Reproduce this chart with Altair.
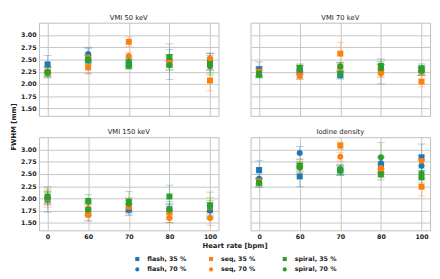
import altair as alt
import pandas as pd

heart_rates = [0, 60, 70, 80, 100]
panels = ["VMI 50 keV", "VMI 70 keV", "VMI 150 keV", "Iodine density"]
series = ["flash, 35 %", "flash, 70 %", "seq, 35 %", "seq, 70 %", "spiral, 35 %", "spiral, 70 %"]
series_colors = ["#1f77b4", "#1f77b4", "#ff7f0e", "#ff7f0e", "#2ca02c", "#2ca02c"]
series_shapes = ["square", "circle", "square", "circle", "square", "circle"]

# rows: flash35, flash70, seq35, seq70, spiral35, spiral70 ; columns: heart rates
vmi50_mean = [
    [2.40, 2.48, 2.41, 2.40, 2.47],
    [2.25, 2.61, 2.43, 2.48, 2.45],
    [2.25, 2.34, 2.86, 2.46, 2.07],
    [2.24, 2.54, 2.57, 2.50, 2.52],
    [2.23, 2.50, 2.37, 2.55, 2.40],
    [2.24, 2.49, 2.46, 2.38, 2.36],
]
vmi50_low = [
    [2.22, 2.22, 2.32, 2.09, 2.30],
    [2.15, 2.48, 2.35, 2.35, 2.28],
    [2.17, 2.20, 2.76, 2.33, 1.86],
    [2.14, 2.45, 2.50, 2.40, 2.42],
    [2.12, 2.42, 2.30, 2.29, 2.22],
    [2.15, 2.40, 2.38, 2.28, 2.18],
]
vmi50_high = [
    [2.58, 2.73, 2.50, 2.70, 2.63],
    [2.35, 2.74, 2.52, 2.60, 2.62],
    [2.33, 2.48, 2.96, 2.59, 2.28],
    [2.34, 2.63, 2.65, 2.60, 2.62],
    [2.35, 2.58, 2.44, 2.82, 2.58],
    [2.33, 2.58, 2.55, 2.46, 2.54],
]

vmi70_mean = [
    [2.30, 2.24, 2.18, 2.28, 2.28],
    [2.27, 2.28, 2.34, 2.30, 2.26],
    [2.25, 2.17, 2.62, 2.27, 2.05],
    [2.23, 2.30, 2.34, 2.22, 2.25],
    [2.19, 2.33, 2.21, 2.37, 2.32],
    [2.22, 2.30, 2.36, 2.32, 2.27],
]
vmi70_low = [
    [2.15, 2.10, 2.10, 2.00, 2.18],
    [2.18, 2.20, 2.25, 2.20, 2.18],
    [2.16, 2.09, 2.40, 2.15, 1.94],
    [2.15, 2.22, 2.26, 2.13, 2.17],
    [2.12, 2.25, 2.12, 2.28, 2.24],
    [2.14, 2.22, 2.28, 2.24, 2.19],
]
vmi70_high = [
    [2.45, 2.38, 2.26, 2.51, 2.38],
    [2.36, 2.36, 2.44, 2.40, 2.34],
    [2.34, 2.26, 2.85, 2.38, 2.17],
    [2.31, 2.38, 2.42, 2.31, 2.33],
    [2.27, 2.41, 2.30, 2.46, 2.41],
    [2.30, 2.38, 2.44, 2.40, 2.35],
]

vmi150_mean = [
    [1.98, 1.74, 1.77, 1.78, 1.77],
    [2.00, 1.77, 1.80, 1.75, 1.76],
    [2.01, 1.67, 1.83, 1.72, 1.83],
    [2.00, 1.80, 1.85, 1.60, 1.60],
    [2.04, 1.95, 1.93, 2.04, 1.86],
    [2.02, 1.77, 1.89, 1.77, 1.83],
]
vmi150_low = [
    [1.72, 1.54, 1.66, 1.62, 1.62],
    [1.88, 1.66, 1.70, 1.51, 1.66],
    [1.82, 1.55, 1.65, 1.58, 1.62],
    [1.86, 1.68, 1.74, 1.50, 1.45],
    [1.90, 1.82, 1.75, 1.80, 1.58],
    [1.90, 1.66, 1.78, 1.66, 1.70],
]
vmi150_high = [
    [2.24, 1.95, 1.88, 1.94, 1.92],
    [2.12, 1.88, 1.90, 1.90, 1.86],
    [2.20, 1.80, 2.02, 1.86, 2.02],
    [2.14, 1.92, 1.96, 1.70, 1.75],
    [2.17, 2.08, 2.14, 2.27, 2.13],
    [2.14, 1.88, 2.00, 1.88, 1.96],
]

iodine_mean = [
    [2.58, 2.45, 2.58, 2.68, 2.84],
    [2.40, 2.93, 2.57, 2.72, 2.67],
    [2.35, 2.66, 3.08, 2.56, 2.24],
    [2.33, 2.65, 2.85, 2.62, 2.77],
    [2.32, 2.67, 2.57, 2.49, 2.43],
    [2.32, 2.63, 2.60, 2.84, 2.51],
]
iodine_low = [
    [2.40, 2.24, 2.48, 2.52, 2.57],
    [2.30, 2.80, 2.48, 2.60, 2.56],
    [2.27, 2.52, 3.00, 2.44, 2.05],
    [2.25, 2.56, 2.76, 2.52, 2.66],
    [2.22, 2.58, 2.47, 2.38, 2.32],
    [2.24, 2.54, 2.50, 2.54, 2.40],
]
iodine_high = [
    [2.77, 2.66, 2.68, 2.84, 3.11],
    [2.50, 3.06, 2.66, 2.84, 2.78],
    [2.43, 2.80, 3.15, 2.68, 2.43],
    [2.41, 2.74, 2.94, 2.72, 2.88],
    [2.40, 2.76, 2.67, 2.60, 2.54],
    [2.40, 2.72, 2.70, 3.14, 2.62],
]

y_ticks = [1.5, 1.75, 2.0, 2.25, 2.5, 2.75, 3.0]

panel_data = {
    "VMI 50 keV": (vmi50_mean, vmi50_low, vmi50_high),
    "VMI 70 keV": (vmi70_mean, vmi70_low, vmi70_high),
    "VMI 150 keV": (vmi150_mean, vmi150_low, vmi150_high),
    "Iodine density": (iodine_mean, iodine_low, iodine_high),
}

rows = []
for p in panels:
    m, lo, hi = panel_data[p]
    for si, s in enumerate(series):
        for hj, hr in enumerate(heart_rates):
            rows.append(dict(panel=p, series=s, order=si, hr=hr,
                             fwhm=m[si][hj], low=lo[si][hj], high=hi[si][hj],
                             col=series_colors[si]))
df = pd.DataFrame(rows)

# legend fills column by column: flash35, flash70 | seq35, seq70 | spiral35, spiral70
legend_order = series
legend_colors = series_colors
legend_shapes = series_shapes

W, H = 185, 96
GX, GY = 33, 22
GRID = "#c4c4c4"
FONT = "DejaVu Sans"

legend = alt.Legend(
    orient="none", legendX=98, legendY=240, columns=3, title=None, padding=0,
    labelFont=FONT, labelFontSize=6.5, labelFontWeight="bold", labelColor="#222",
    symbolSize=18, symbolOpacity=1, symbolStrokeWidth=1,
    columnPadding=18, rowPadding=2, labelOffset=7, gridAlign="all",
)


def make_panel(name, left, bottom):
    xkw = dict(labels=bottom, ticks=False, domain=False, grid=True, gridColor=GRID,
               labelPadding=3, labelAngle=0)
    if left and bottom:
        xkw.update(title="Heart rate [bpm]", titleX=(2 * W + GX) / 2, titlePadding=2)
    else:
        xkw.update(title=None)
    ykw = dict(labels=left, ticks=False, domain=False, grid=True, gridColor=GRID,
               values=y_ticks, format=".2f", labelPadding=3)
    if left and not bottom:
        ykw.update(title="FWHM [mm]", titleY=H + GY / 2, titlePadding=4)
    else:
        ykw.update(title=None)

    xenc = alt.X("hr:O", scale=alt.Scale(type="point", padding=0.21), axis=alt.Axis(**xkw))
    yscale = alt.Scale(domain=[1.35, 3.25], nice=False, zero=False)

    def yenc(field):
        return alt.Y(f"{field}:Q", scale=yscale, axis=alt.Axis(**ykw))

    base = alt.Chart(df).transform_filter(alt.datum.panel == name)
    rule = base.mark_rule(opacity=0.35, strokeWidth=1).encode(
        x=xenc, y=yenc("low"), y2="high:Q", color=alt.Color("col:N", scale=None))
    cap_lo = base.mark_tick(orient="horizontal", size=8, thickness=1, opacity=0.35).encode(
        x=xenc, y=yenc("low"), color=alt.Color("col:N", scale=None))
    cap_hi = base.mark_tick(orient="horizontal", size=8, thickness=1, opacity=0.35).encode(
        x=xenc, y=yenc("high"), color=alt.Color("col:N", scale=None))
    pts = base.mark_point(filled=True, opacity=1, fillOpacity=1, size=38).encode(
        x=xenc, y=yenc("fwhm"),
        color=alt.Color("series:N", scale=alt.Scale(domain=legend_order, range=legend_colors), legend=legend),
        shape=alt.Shape("series:N", scale=alt.Scale(domain=legend_order, range=legend_shapes), legend=legend),
        order=alt.Order("order:Q"),
    )
    return alt.layer(rule, cap_lo, cap_hi, pts).properties(
        width=W, height=H, title=alt.Title(name))


chart = alt.concat(
    make_panel(panels[0], True, False),
    make_panel(panels[1], False, False),
    make_panel(panels[2], True, True),
    make_panel(panels[3], False, True),
    columns=2,
    spacing={"row": GY, "column": GX},
    bounds="flush",
).properties(
    padding=1
).configure_view(
    stroke="#bdbdbd", strokeWidth=1
).configure_axis(
    labelFont=FONT, labelFontSize=6.5, labelFontWeight="bold", labelColor="#222",
    titleFont=FONT, titleFontSize=7, titleFontWeight="bold", titleColor="#222",
    gridWidth=1,
).configure_legend(
    symbolOpacity=1
).configure_title(
    font=FONT, fontSize=7, fontWeight="normal", color="#222", offset=2
)

chart.save("out.html", embed_options={"renderer": "svg", "actions": False})
